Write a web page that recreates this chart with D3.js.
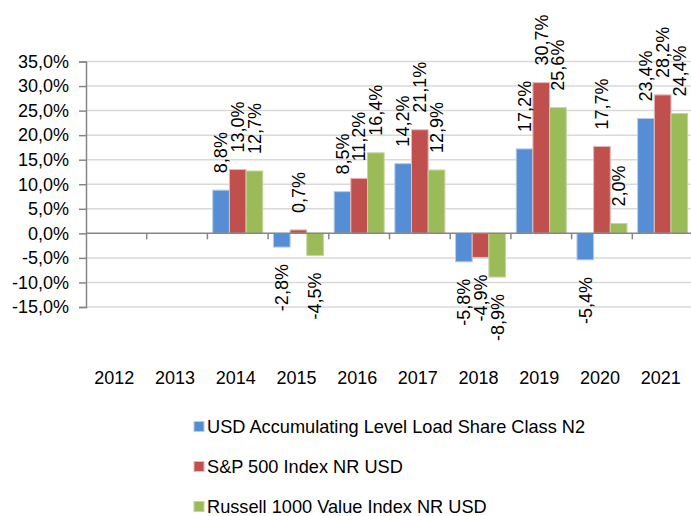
<!DOCTYPE html>
<html>
<head>
<meta charset="utf-8">
<script src="https://cdn.jsdelivr.net/npm/d3@7"></script>
<style>
  html, body { margin: 0; padding: 0; background: #fff; }
  svg { display: block; font-family: "Liberation Sans", Arial, sans-serif; }
</style>
</head>
<body>
<svg id="chart" width="691" height="516"></svg>
<script>
const years = ["2012","2013","2014","2015","2016","2017","2018","2019","2020","2021"];
const seriesNames = ["USD Accumulating Level Load Share Class N2", "S&P 500 Index NR USD", "Russell 1000 Value Index NR USD"];
const fundValues    = [null, null, 8.8, -2.8, 8.5, 14.2, -5.8, 17.2, -5.4, 23.4];
const sp500Values   = [null, null, 13.0, 0.7, 11.2, 21.1, -4.9, 30.7, 17.7, 28.2];
const russellValues = [null, null, 12.7, -4.5, 16.4, 12.9, -8.9, 25.6, 2.0, 24.4];
const yTicks = [-15, -10, -5, 0, 5, 10, 15, 20, 25, 30, 35];
const fills = ["#558ED5", "#C0504D", "#9BBB59"];
const strokes = ["#B9CDE5", "#E6B9B8", "#C3D69B"];

(function () {
const allSeries = [fundValues, sp500Values, russellValues];
const fmt = v => d3.format(".1f")(v).replace("\u2212", "-").replace(".", ",") + "%";

const svg = d3.select("#chart");
const mLeft = 86, mRight = 693, mTop = 61.5, mBottom = 307;

const y = d3.scaleLinear().domain([-15, 35]).range([mBottom, mTop]);
const x = d3.scaleBand().domain(years).range([mLeft, mRight]).padding(0);
const xs = d3.scaleBand().domain(d3.range(3)).range([0, x.bandwidth()]).paddingInner(0).paddingOuter(0.32);

// gridlines
svg.append("g").selectAll("line").data(yTicks.filter(t => t !== 0)).join("line")
  .attr("x1", mLeft).attr("x2", mRight)
  .attr("y1", d => y(d)).attr("y2", d => y(d))
  .attr("stroke", "#D9D9D9").attr("stroke-width", 1.5);

// bars
const rows = [];
years.forEach((yr, i) => allSeries.forEach((s, k) => { if (s[i] !== null) rows.push({yr, k, v: s[i]}); }));

svg.append("g").selectAll("rect").data(rows).join("rect")
  .attr("x", d => x(d.yr) + xs(d.k))
  .attr("width", xs.bandwidth())
  .attr("y", d => y(Math.max(0, d.v)))
  .attr("height", d => Math.abs(y(d.v) - y(0)))
  .attr("fill", d => fills[d.k])
  .attr("stroke", d => strokes[d.k]).attr("stroke-width", 1);

// y axis
const yAxis = d3.axisLeft(y).tickValues(yTicks).tickSize(7).tickPadding(10).tickFormat(fmt);
const yg = svg.append("g").attr("transform", `translate(${mLeft},0)`).call(yAxis);
yg.select(".domain").attr("stroke", "#868686").attr("stroke-width", 1.5);
yg.selectAll(".tick line").attr("stroke", "#868686").attr("stroke-width", 1.5);
yg.selectAll(".tick text").attr("font-size", 18).attr("fill", "#000").attr("font-family", "Liberation Sans, Arial, sans-serif");

// zero line with category ticks
svg.append("line").attr("x1", mLeft).attr("x2", mRight).attr("y1", y(0)).attr("y2", y(0))
  .attr("stroke", "#868686").attr("stroke-width", 1.5);
svg.append("g").selectAll("line").data(years.slice(1)).join("line")
  .attr("x1", d => x(d)).attr("x2", d => x(d))
  .attr("y1", y(0)).attr("y2", y(0) + 6)
  .attr("stroke", "#868686").attr("stroke-width", 1.5);

// x labels
svg.append("g").selectAll("text").data(years).join("text")
  .attr("x", d => x(d) + x.bandwidth() / 2 - 2)
  .attr("y", 384)
  .attr("text-anchor", "middle").attr("font-size", 18).attr("fill", "#000")
  .text(d => d);

// data labels
svg.append("g").selectAll("text").data(rows).join("text")
  .attr("transform", d => {
    const cx = x(d.yr) + xs(d.k) + xs.bandwidth() / 2;
    const cy = d.v >= 0 ? y(d.v) - 17 : y(d.v) + 17;
    return `translate(${cx},${cy}) rotate(-90)`;
  })
  .attr("dy", "0.35em")
  .attr("text-anchor", d => d.v >= 0 ? "start" : "end")
  .attr("font-size", 18).attr("fill", "#000")
  .text(d => fmt(d.v));

// legend
const lg = svg.append("g").selectAll("g").data(seriesNames).join("g")
  .attr("transform", (d, i) => `translate(194,${421.5 + i * 40})`);
lg.append("rect").attr("width", 10).attr("height", 10)
  .attr("fill", (d, i) => fills[i]).attr("stroke", (d, i) => strokes[i]).attr("stroke-width", 1);
lg.append("text").attr("x", 13).attr("y", 11).attr("font-size", 18.2).attr("fill", "#000").text(d => d);
})();
</script>
</body>
</html>
